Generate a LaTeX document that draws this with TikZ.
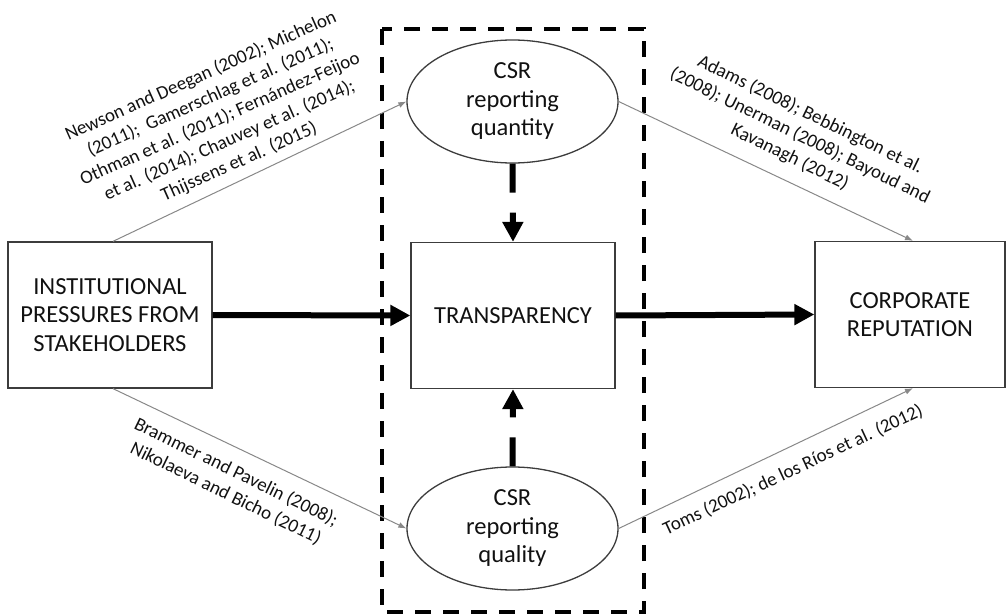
\documentclass[tikz,border=0pt]{standalone}
\usepackage{fontspec}
\setmainfont{Carlito}
\usetikzlibrary{arrows.meta,shapes.geometric}
\definecolor{txt}{HTML}{111111}
\definecolor{edge}{HTML}{3C3C3C}
\definecolor{thin}{HTML}{888888}
\begin{document}
\begin{tikzpicture}[x=1pt,y=1pt,
  box/.style={draw=edge,line width=1.3pt,minimum width=204pt,minimum height=146pt,inner sep=0pt,align=center,font=\fontsize{24.5}{28.5}\selectfont,text=txt},
  oval/.style={ellipse,draw=edge,line width=1.3pt,minimum width=211pt,minimum height=123pt,inner sep=0pt,align=center,font=\fontsize{24.5}{28.5}\selectfont,text=txt},
  cite/.style={align=center,font=\fontsize{19}{23.5}\selectfont,text=txt,inner sep=0pt},
  thinarrow/.style={draw=thin,line width=1pt,-{Latex[length=8pt,width=6pt]}},
  thickarrow/.style={draw=black,line width=6pt,-{Triangle[length=20pt,width=20pt]}},
  dasharrow/.style={thickarrow,dash pattern=on 29pt off 20pt},
  groupframe/.style={line width=4pt,dash pattern=on 16pt off 12pt}
]
\useasboundingbox (0,0) rectangle (1007,-615);
\draw[groupframe] (382,-29) rectangle (644,-612);

\node[box] (ip) at (110,-315) {INSTITUTIONAL\\PRESSURES FROM\\STAKEHOLDERS};
\node[box] (tr) at (513,-315.5) {TRANSPARENCY};
\node[box,minimum width=190pt] (cr) at (910,-314.5) {CORPORATE\\REPUTATION};
\node[oval] (qn) at (512.5,-101.5) {CSR\\reporting\\quantity};
\node[oval] (ql) at (512.5,-528.5) {CSR\\reporting\\quality};

\draw[thickarrow] (ip.east) -- (tr.west);
\draw[thickarrow] (tr.east) -- (cr.west);
\draw[dasharrow] (qn.south) -- (tr.north);
\draw[dasharrow] (ql.north) -- (tr.south);

\draw[thinarrow] ([xshift=3pt]ip.north) -- (qn.west);
\draw[thinarrow] (qn.east) -- ([xshift=3pt]cr.north);
\draw[thinarrow] ([xshift=3pt]ip.south) -- (ql.west);
\draw[thinarrow] (ql.east) -- ([xshift=3pt]cr.south);

\node[cite,rotate=24] (c1) at (220,-119) {Newson and Deegan (2002); Michelon\\(2011);\ \ Gamerschlag et al. (2011);\\Othman et al. (2011); Fernández-Feijoo\\et al. (2014); Chauvey et al. (2014);\\Thijssens et al. (2015)};
\node[cite,rotate=-26] (c2) at (800,-136) {Adams (2008); Bebbington et al.\\(2008); Unerman (2008); Bayoud and\\Kavanagh (2012)};
\node[cite,rotate=-26] (c3) at (231,-483) {Brammer and Pavelin (2008);\\Nikolaeva and Bicho (2011)};
\node[cite,rotate=25] (c4) at (793,-470) {Toms (2002); de los Ríos et al. (2012)};
\end{tikzpicture}
\end{document}
